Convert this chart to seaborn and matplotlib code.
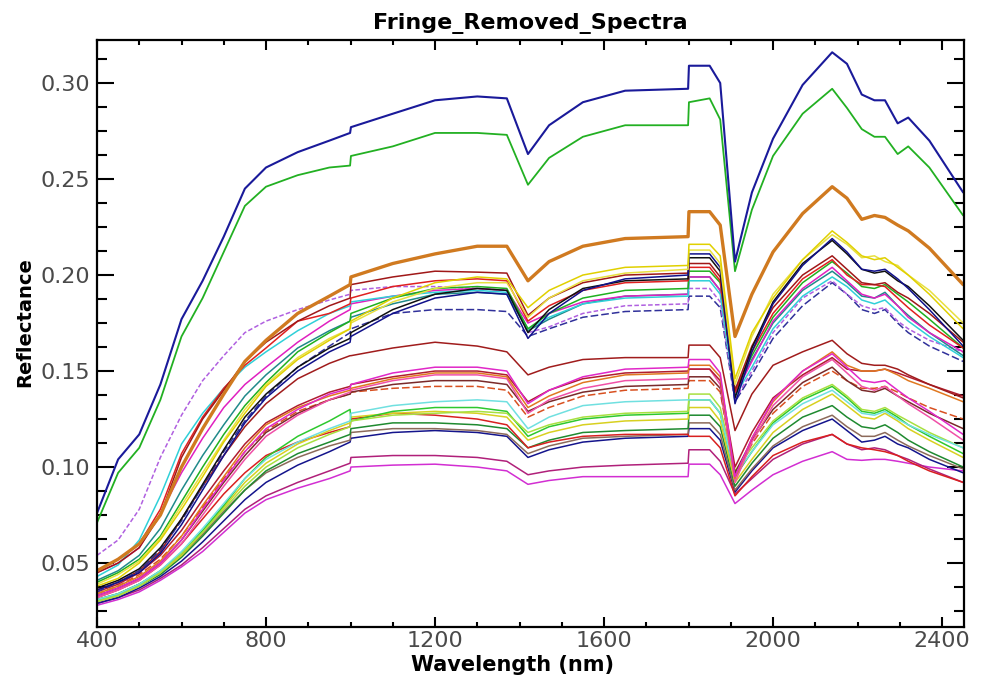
import matplotlib
matplotlib.use("Agg")
import matplotlib.pyplot as plt
import seaborn as sns
import pandas as pd
from matplotlib.ticker import MultipleLocator, FormatStrFormatter

# ---------------- data ----------------
wavelength = [400, 450, 500, 550, 600, 650, 700, 750, 800, 875, 950, 999, 1001, 1100,
              1200, 1300, 1370, 1420, 1470, 1550, 1650, 1799, 1801, 1850, 1875, 1910,
              1950, 2000, 2070, 2140, 2175, 2210, 2240, 2265, 2295, 2320, 2370, 2450]

blue_top = [0.076, 0.104, 0.117, 0.143, 0.177, 0.197, 0.220, 0.245, 0.256, 0.264, 0.270, 0.274, 0.277, 0.284,
            0.291, 0.293, 0.292, 0.263, 0.278, 0.290, 0.296, 0.297, 0.309, 0.309, 0.300, 0.207,
            0.243, 0.271, 0.299, 0.316, 0.310, 0.294, 0.291, 0.291, 0.279, 0.282, 0.270, 0.243]
green_top = [0.071, 0.097, 0.110, 0.135, 0.168, 0.188, 0.212, 0.236, 0.246, 0.252, 0.256, 0.257, 0.262, 0.267,
             0.274, 0.274, 0.273, 0.247, 0.261, 0.272, 0.278, 0.278, 0.290, 0.292, 0.281, 0.202,
             0.234, 0.262, 0.284, 0.297, 0.287, 0.276, 0.272, 0.272, 0.263, 0.267, 0.256, 0.231]
orange_thick = [0.046, 0.052, 0.060, 0.075, 0.100, 0.120, 0.138, 0.155, 0.166, 0.180, 0.189, 0.195, 0.199, 0.206,
                0.211, 0.215, 0.215, 0.197, 0.207, 0.215, 0.219, 0.220, 0.233, 0.233, 0.226, 0.168,
                0.190, 0.212, 0.232, 0.246, 0.240, 0.229, 0.231, 0.230, 0.226, 0.223, 0.214, 0.195]

# upper cluster
u_yellow = [0.038, 0.042, 0.050, 0.062, 0.078, 0.095, 0.113, 0.128, 0.142, 0.156, 0.166, 0.172, 0.176, 0.188,
            0.196, 0.199, 0.198, 0.183, 0.192, 0.200, 0.204, 0.205, 0.216, 0.216, 0.210, 0.146,
            0.170, 0.188, 0.208, 0.223, 0.217, 0.210, 0.208, 0.209, 0.204, 0.200, 0.190, 0.172]
u_darkred = [0.045, 0.050, 0.058, 0.075, 0.105, 0.125, 0.140, 0.155, 0.165, 0.176, 0.184, 0.188, 0.195, 0.199,
             0.202, 0.2015, 0.201, 0.179, 0.188, 0.196, 0.200, 0.201, 0.206, 0.206, 0.199, 0.140,
             0.163, 0.183, 0.200, 0.210, 0.203, 0.196, 0.195, 0.196, 0.191, 0.188, 0.180, 0.165]
u_navy = [0.036, 0.040, 0.045, 0.055, 0.070, 0.088, 0.106, 0.123, 0.136, 0.150, 0.160, 0.165, 0.168, 0.180,
          0.188, 0.191, 0.190, 0.167, 0.180, 0.192, 0.198, 0.200, 0.211, 0.211, 0.204, 0.133,
          0.160, 0.185, 0.205, 0.219, 0.212, 0.203, 0.202, 0.203, 0.198, 0.193, 0.182, 0.163]
u_black = [0.037, 0.041, 0.047, 0.058, 0.073, 0.091, 0.109, 0.126, 0.138, 0.152, 0.162, 0.167, 0.170, 0.182,
           0.190, 0.193, 0.192, 0.170, 0.182, 0.193, 0.197, 0.198, 0.209, 0.209, 0.202, 0.136,
           0.162, 0.186, 0.206, 0.218, 0.211, 0.203, 0.201, 0.202, 0.197, 0.194, 0.184, 0.166]
u_yellow2 = [0.039, 0.044, 0.051, 0.063, 0.080, 0.097, 0.114, 0.130, 0.143, 0.157, 0.167, 0.172, 0.175, 0.186,
             0.193, 0.196, 0.196, 0.178, 0.188, 0.197, 0.201, 0.203, 0.213, 0.213, 0.206, 0.143,
             0.168, 0.190, 0.208, 0.221, 0.216, 0.209, 0.210, 0.207, 0.205, 0.200, 0.192, 0.175]
u_green = [0.040, 0.045, 0.052, 0.064, 0.082, 0.100, 0.117, 0.132, 0.144, 0.160, 0.170, 0.176, 0.180, 0.188,
           0.193, 0.194, 0.193, 0.172, 0.180, 0.188, 0.192, 0.193, 0.202, 0.202, 0.196, 0.140,
           0.158, 0.178, 0.196, 0.207, 0.201, 0.194, 0.193, 0.195, 0.190, 0.186, 0.177, 0.162]
u_cyan = [0.043, 0.049, 0.062, 0.085, 0.112, 0.128, 0.141, 0.152, 0.160, 0.171, 0.180, 0.184, 0.186, 0.189,
          0.191, 0.192, 0.191, 0.172, 0.178, 0.185, 0.188, 0.189, 0.197, 0.197, 0.190, 0.137,
          0.152, 0.172, 0.189, 0.199, 0.194, 0.187, 0.185, 0.187, 0.181, 0.176, 0.168, 0.157]
u_magenta = [0.045, 0.050, 0.058, 0.076, 0.097, 0.115, 0.131, 0.143, 0.152, 0.165, 0.176, 0.182, 0.185, 0.189,
             0.192, 0.193, 0.192, 0.175, 0.180, 0.186, 0.189, 0.190, 0.199, 0.199, 0.192, 0.138,
             0.155, 0.176, 0.193, 0.204, 0.197, 0.190, 0.188, 0.190, 0.184, 0.178, 0.170, 0.160]
u_purple = [0.054, 0.062, 0.078, 0.105, 0.127, 0.145, 0.158, 0.170, 0.176, 0.182, 0.187, 0.190, 0.192, 0.194,
            0.194, 0.193, 0.192, 0.170, 0.173, 0.180, 0.184, 0.185, 0.193, 0.193, 0.186, 0.135,
            0.150, 0.170, 0.188, 0.197, 0.190, 0.184, 0.182, 0.183, 0.176, 0.172, 0.166, 0.160]
u_navydash = [0.035, 0.040, 0.046, 0.057, 0.072, 0.090, 0.108, 0.124, 0.137, 0.152, 0.163, 0.170, 0.172, 0.180,
              0.182, 0.182, 0.181, 0.168, 0.172, 0.178, 0.181, 0.182, 0.189, 0.189, 0.183, 0.134,
              0.148, 0.167, 0.184, 0.196, 0.190, 0.182, 0.180, 0.182, 0.175, 0.170, 0.163, 0.155]
u_red = [0.046, 0.052, 0.060, 0.078, 0.107, 0.126, 0.141, 0.153, 0.162, 0.176, 0.180, 0.185, 0.188, 0.194,
         0.197, 0.198, 0.197, 0.176, 0.184, 0.192, 0.196, 0.197, 0.204, 0.204, 0.197, 0.139,
         0.160, 0.180, 0.198, 0.208, 0.200, 0.195, 0.195, 0.194, 0.188, 0.183, 0.174, 0.162]
u_teal = [0.041, 0.046, 0.054, 0.068, 0.088, 0.106, 0.122, 0.137, 0.148, 0.162, 0.171, 0.176, 0.178, 0.185,
          0.190, 0.191, 0.190, 0.171, 0.177, 0.185, 0.189, 0.190, 0.199, 0.199, 0.192, 0.138,
          0.156, 0.175, 0.192, 0.202, 0.196, 0.189, 0.188, 0.191, 0.184, 0.179, 0.170, 0.158]

# middle line
m_darkred = [0.036, 0.040, 0.046, 0.056, 0.073, 0.090, 0.106, 0.121, 0.133, 0.146, 0.154, 0.158, 0.158, 0.162,
             0.165, 0.163, 0.160, 0.148, 0.152, 0.156, 0.157, 0.157, 0.1635, 0.1635, 0.157, 0.119,
             0.138, 0.153, 0.160, 0.166, 0.159, 0.154, 0.153, 0.153, 0.151, 0.148, 0.143, 0.136]

# 0.14-0.15 cluster
g_magenta = [0.033, 0.037, 0.042, 0.050, 0.062, 0.078, 0.093, 0.108, 0.120, 0.130, 0.138, 0.141, 0.143, 0.149,
             0.152, 0.152, 0.150, 0.133, 0.140, 0.147, 0.151, 0.152, 0.156, 0.156, 0.149, 0.095,
             0.115, 0.135, 0.150, 0.159, 0.152, 0.145, 0.144, 0.145, 0.140, 0.136, 0.129, 0.117]
g_orange = [0.034, 0.038, 0.043, 0.051, 0.064, 0.080, 0.095, 0.110, 0.122, 0.131, 0.137, 0.140, 0.141, 0.146,
            0.149, 0.149, 0.147, 0.131, 0.137, 0.144, 0.148, 0.149, 0.153, 0.153, 0.147, 0.094,
            0.115, 0.134, 0.150, 0.160, 0.153, 0.150, 0.150, 0.151, 0.148, 0.145, 0.141, 0.134]
g_darkred = [0.035, 0.039, 0.045, 0.054, 0.067, 0.083, 0.098, 0.112, 0.123, 0.132, 0.139, 0.142, 0.143, 0.147,
             0.150, 0.150, 0.148, 0.134, 0.140, 0.146, 0.149, 0.150, 0.151, 0.151, 0.145, 0.100,
             0.118, 0.136, 0.148, 0.157, 0.151, 0.150, 0.150, 0.151, 0.149, 0.147, 0.143, 0.137]
g_pink = [0.032, 0.036, 0.041, 0.049, 0.060, 0.075, 0.090, 0.104, 0.116, 0.127, 0.135, 0.139, 0.140, 0.145,
          0.148, 0.148, 0.146, 0.128, 0.135, 0.141, 0.145, 0.146, 0.151, 0.151, 0.143, 0.092,
          0.113, 0.132, 0.147, 0.156, 0.149, 0.142, 0.140, 0.142, 0.137, 0.133, 0.126, 0.114]
g_maroon = [0.033, 0.037, 0.042, 0.050, 0.062, 0.077, 0.092, 0.106, 0.118, 0.128, 0.135, 0.138, 0.139, 0.143,
            0.145, 0.145, 0.143, 0.129, 0.134, 0.139, 0.142, 0.143, 0.147, 0.147, 0.141, 0.097,
            0.114, 0.130, 0.144, 0.152, 0.145, 0.140, 0.139, 0.141, 0.137, 0.134, 0.128, 0.120]
g_redorange = [0.034, 0.038, 0.044, 0.052, 0.064, 0.079, 0.094, 0.108, 0.119, 0.129, 0.135, 0.138, 0.139, 0.141,
               0.142, 0.142, 0.140, 0.126, 0.131, 0.137, 0.140, 0.141, 0.145, 0.145, 0.139, 0.096,
               0.112, 0.128, 0.142, 0.150, 0.145, 0.141, 0.141, 0.142, 0.139, 0.136, 0.131, 0.125]

# 0.12-0.13 cluster
h_cyan = [0.031, 0.034, 0.039, 0.046, 0.056, 0.068, 0.081, 0.094, 0.104, 0.113, 0.120, 0.124, 0.128, 0.132,
          0.134, 0.135, 0.134, 0.120, 0.126, 0.132, 0.134, 0.135, 0.135, 0.135, 0.128, 0.096,
          0.108, 0.122, 0.133, 0.140, 0.134, 0.128, 0.127, 0.129, 0.125, 0.122, 0.117, 0.110]
h_green = [0.031, 0.034, 0.039, 0.046, 0.055, 0.067, 0.080, 0.094, 0.105, 0.116, 0.124, 0.130, 0.124, 0.129,
           0.131, 0.131, 0.129, 0.116, 0.121, 0.125, 0.127, 0.128, 0.135, 0.135, 0.128, 0.095,
           0.108, 0.123, 0.135, 0.142, 0.136, 0.129, 0.128, 0.130, 0.126, 0.122, 0.116, 0.107]
h_yellow = [0.030, 0.033, 0.038, 0.045, 0.054, 0.066, 0.079, 0.092, 0.102, 0.112, 0.119, 0.123, 0.126, 0.128,
            0.129, 0.128, 0.126, 0.114, 0.118, 0.122, 0.124, 0.125, 0.131, 0.131, 0.124, 0.092,
            0.104, 0.118, 0.130, 0.138, 0.132, 0.126, 0.125, 0.128, 0.124, 0.120, 0.114, 0.105]
h_red = [0.032, 0.036, 0.041, 0.049, 0.060, 0.073, 0.086, 0.097, 0.106, 0.113, 0.118, 0.121, 0.125, 0.128,
         0.127, 0.125, 0.122, 0.110, 0.113, 0.116, 0.117, 0.117, 0.116, 0.116, 0.110, 0.085,
         0.095, 0.106, 0.113, 0.117, 0.112, 0.110, 0.109, 0.108, 0.106, 0.103, 0.098, 0.092]
h_darkgreen = [0.030, 0.033, 0.038, 0.044, 0.053, 0.064, 0.076, 0.088, 0.098, 0.107, 0.113, 0.117, 0.120, 0.123,
               0.123, 0.122, 0.120, 0.110, 0.114, 0.118, 0.119, 0.120, 0.127, 0.127, 0.121, 0.090,
               0.102, 0.115, 0.126, 0.132, 0.126, 0.121, 0.120, 0.122, 0.118, 0.114, 0.108, 0.100]
h_brown = [0.031, 0.034, 0.039, 0.045, 0.054, 0.065, 0.077, 0.088, 0.097, 0.105, 0.111, 0.114, 0.118, 0.120,
           0.120, 0.119, 0.117, 0.107, 0.111, 0.115, 0.116, 0.117, 0.123, 0.123, 0.117, 0.088,
           0.099, 0.111, 0.121, 0.127, 0.121, 0.116, 0.116, 0.118, 0.114, 0.111, 0.106, 0.099]
h_navy = [0.029, 0.032, 0.037, 0.043, 0.051, 0.061, 0.072, 0.083, 0.092, 0.101, 0.108, 0.113, 0.115, 0.118,
          0.119, 0.118, 0.116, 0.105, 0.109, 0.113, 0.115, 0.116, 0.120, 0.120, 0.114, 0.087,
          0.098, 0.110, 0.119, 0.125, 0.119, 0.113, 0.114, 0.116, 0.112, 0.110, 0.104, 0.097]
h_lime = [0.030, 0.033, 0.038, 0.045, 0.055, 0.066, 0.078, 0.090, 0.100, 0.110, 0.117, 0.121, 0.124, 0.127,
          0.128, 0.129, 0.128, 0.118, 0.122, 0.126, 0.128, 0.129, 0.138, 0.138, 0.131, 0.098,
          0.110, 0.124, 0.136, 0.143, 0.137, 0.130, 0.129, 0.131, 0.127, 0.124, 0.118, 0.110]

# lowest pair
l_darkmagenta = [0.029, 0.032, 0.036, 0.042, 0.049, 0.058, 0.068, 0.078, 0.085, 0.092, 0.098, 0.102, 0.105, 0.106,
                 0.106, 0.105, 0.103, 0.096, 0.098, 0.100, 0.101, 0.102, 0.109, 0.109, 0.103, 0.086,
                 0.094, 0.104, 0.112, 0.117, 0.112, 0.109, 0.110, 0.109, 0.106, 0.104, 0.099, 0.092]
l_magenta = [0.028, 0.031, 0.035, 0.041, 0.048, 0.056, 0.066, 0.076, 0.083, 0.089, 0.094, 0.098, 0.100, 0.101,
             0.1015, 0.100, 0.098, 0.091, 0.093, 0.095, 0.095, 0.095, 0.1015, 0.1015, 0.096, 0.081,
             0.088, 0.096, 0.103, 0.108, 0.104, 0.1035, 0.104, 0.104, 0.103, 0.102, 0.100, 0.098]

# drawing order: back to front
spectra = [l_magenta, l_darkmagenta, h_navy, h_brown, h_darkgreen, h_red, h_yellow, h_green,
           h_lime, h_cyan, g_redorange, g_maroon, g_pink, g_darkred, g_orange, g_magenta,
           m_darkred, u_navydash, u_purple, u_teal, u_magenta, u_cyan, u_green, u_red,
           u_darkred, u_black, u_navy, u_yellow2, u_yellow, orange_thick, green_top, blue_top]
colors = ['#d22ed2', '#b0207a', '#14148c', '#8c6a5a', '#1f8a30', '#d82020', '#d8d020', '#2ec82e',
          '#a8e040', '#70e0e0', '#d85020', '#7a2a2a', '#f050a8', '#b01c30', '#e07820', '#e028c8',
          '#a01c1c', '#30309a', '#b060e0', '#208a8a', '#e020c0', '#30d0d8', '#20b020', '#e02020',
          '#a01818', '#101010', '#10108a', '#e8e040', '#e0d000', '#d07a20', '#22b022', '#1a1a9a']
widths = [1.1] * 29 + [2.4, 1.3, 1.5]
dashed = {'u_navydash': (5, 2), 'u_purple': (3, 1.5), 'g_redorange': (5, 2)}
names = ['l_magenta', 'l_darkmagenta', 'h_navy', 'h_brown', 'h_darkgreen', 'h_red', 'h_yellow', 'h_green',
         'h_lime', 'h_cyan', 'g_redorange', 'g_maroon', 'g_pink', 'g_darkred', 'g_orange', 'g_magenta',
         'm_darkred', 'u_navydash', 'u_purple', 'u_teal', 'u_magenta', 'u_cyan', 'u_green', 'u_red',
         'u_darkred', 'u_black', 'u_navy', 'u_yellow2', 'u_yellow', 'orange_thick', 'green_top', 'blue_top']

for nm, s in zip(names, spectra):
    if len(s) != len(wavelength):
        raise ValueError(f"{nm} has {len(s)} values")

# ---------------- plot ----------------
sns.set_theme(style="white")
plt.rcParams['font.family'] = ['DejaVu Sans']
plt.rcParams['text.color'] = 'black'
plt.rcParams['axes.labelcolor'] = 'black'

fig = plt.figure(figsize=(9.82, 6.78), dpi=100)
ax = fig.add_axes([97 / 982, 51 / 678, 867 / 982, 587 / 678])

for nm, s, c, w in zip(names, spectra, colors, widths):
    df = pd.DataFrame({'Wavelength': wavelength, 'Reflectance': s})
    sns.lineplot(data=df, x='Wavelength', y='Reflectance', color=c, linewidth=w,
                 estimator=None, sort=False, ax=ax)
    if nm in dashed:
        ax.lines[-1].set_dashes(dashed[nm])

ax.set_xlim(400, 2452)
ax.set_ylim(0.0167, 0.3224)

ax.xaxis.set_major_locator(MultipleLocator(400))
ax.xaxis.set_minor_locator(MultipleLocator(100))
ax.yaxis.set_major_locator(MultipleLocator(0.05))
ax.yaxis.set_minor_locator(MultipleLocator(0.0125))
ax.yaxis.set_major_formatter(FormatStrFormatter('%.2f'))
ax.xaxis.set_major_formatter(FormatStrFormatter('%d'))

ax.tick_params(axis='both', which='both', direction='in', top=True, right=True,
               bottom=True, left=True, color='black', width=1.5)
ax.tick_params(axis='x', which='major', length=7, labelsize=16, pad=3, labelcolor='#4a4a4a')
ax.tick_params(axis='x', which='minor', length=3.5)
ax.tick_params(axis='y', which='major', length=12, labelsize=16, pad=5, labelcolor='#4a4a4a')
ax.tick_params(axis='y', which='minor', length=7)
ax.tick_params(axis='y', which='both', labelright=False)
ax.tick_params(axis='x', which='both', labeltop=False)

for sp in ax.spines.values():
    sp.set_color('black')
    sp.set_linewidth(1.6)

ax.set_title('Fringe_Removed_Spectra', fontsize=16, fontweight='bold', pad=8, color='black')
ax.set_xlabel('Wavelength (nm)', fontsize=15, fontweight='bold', va='center', color='black')
ax.xaxis.set_label_coords(0.479, -0.0647)
ax.set_ylabel('Reflectance', fontsize=14, fontweight='bold', va='center', color='black')
ax.yaxis.set_label_coords(-0.083, 0.52)

fig.savefig('out.png', dpi=100, facecolor='white')
